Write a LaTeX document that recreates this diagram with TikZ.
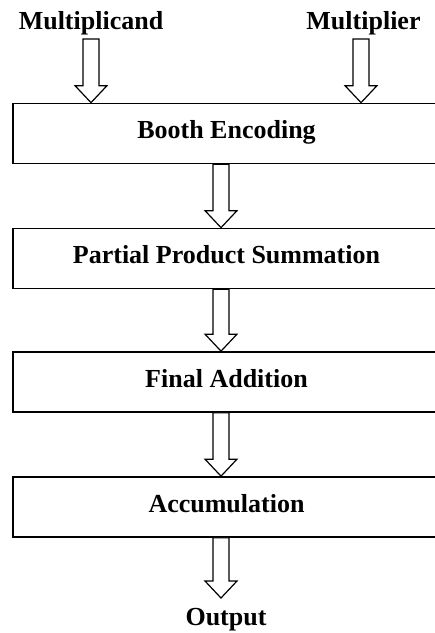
\documentclass[tikz,border=0pt]{standalone}
\usepackage{fontspec}
\setmainfont{Liberation Serif}
\usetikzlibrary{calc}

\tikzset{
  stagebox/.style={draw=black, line width=1.7pt, fill=white, rectangle,
    minimum width=427pt, minimum height=60pt, inner sep=0pt,
    text height=17pt, text depth=7pt,
    font=\fontsize{26}{31}\selectfont\bfseries},
  iolabel/.style={anchor=base, inner sep=0pt,
    font=\fontsize{26}{31}\selectfont\bfseries},
  hollow/.style={draw=black, line width=1.2pt, fill=white, line join=miter}
}

% hollow block arrow: shaft from the x of #1 down to the y of #2
\newcommand\hollowarrow[2]{%
  \path[hollow] let \p1=(#1), \p2=(#2) in
    (\x1-8pt,\y1) -- (\x1-8pt,\y2+17pt) -- (\x1-16pt,\y2+17pt) --
    (\x1,\y2) -- (\x1+16pt,\y2+17pt) -- (\x1+8pt,\y2+17pt) --
    (\x1+8pt,\y1) -- cycle;}

\begin{document}
\begin{tikzpicture}[x=1pt, y=-1pt]
  \clip (0,0) rectangle (435,633);
  \fill[white] (0,0) rectangle (435,633);

  % inputs
  \node[iolabel] (mcand) at (91,29) {Multiplicand};
  \node[iolabel] (mplier) at (363.5,29) {Multiplier};

  % processing stages
  \node[stagebox] (booth) at (226.5,133.5) {Booth Encoding};
  \node[stagebox] (pps)   at (226.5,258.5) {Partial Product Summation};
  \node[stagebox] (fadd)  at (226.5,382)   {Final Addition};
  \node[stagebox] (accum) at (226.5,507)   {Accumulation};

  % output
  \node[iolabel] (out) at (226,625) {Output};

  % arrow tails, the output arrow tip and the common spine
  \coordinate (mcandtail)  at (91,39);
  \coordinate (mpliertail) at (361,39);
  \coordinate (spine) at (221,0);
  \coordinate (outtip) at (221,598);

  \hollowarrow{mcandtail}{booth.north -| mcandtail}
  \hollowarrow{mpliertail}{booth.north -| mpliertail}
  \hollowarrow{booth.south -| spine}{pps.north -| spine}
  \hollowarrow{pps.south -| spine}{fadd.north -| spine}
  \hollowarrow{fadd.south -| spine}{accum.north -| spine}
  \hollowarrow{accum.south -| spine}{outtip}
\end{tikzpicture}
\end{document}
